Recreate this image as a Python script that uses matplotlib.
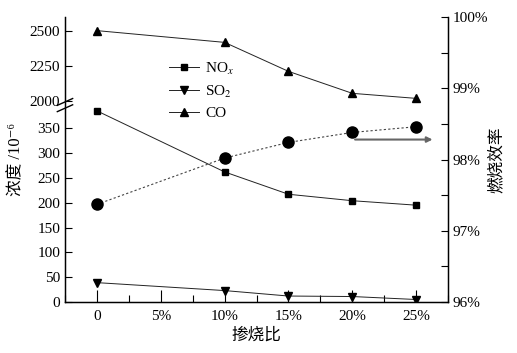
import numpy as np
import matplotlib
matplotlib.use('Agg')
import matplotlib.pyplot as plt
from matplotlib.ticker import FixedLocator, MultipleLocator, FuncFormatter

plt.rcParams['font.family'] = ['Liberation Serif', 'DejaVu Serif', 'Noto Sans CJK SC']
plt.rcParams['mathtext.fontset'] = 'stix'

# data
ratio = [0, 10, 15, 20, 25]          # 掺烧比, %
nox = [385, 262, 217, 204, 195]
so2 = [39, 23, 12, 11, 5]
co = [2500, 2416, 2209, 2052, 2016]
eff = [97.37, 98.02, 98.24, 98.38, 98.46]   # 燃烧效率, %

left_ticks = [0, 50, 100, 150, 200, 250, 300, 350, 2000, 2250, 2500]
x_ticks = [0, 5, 10, 15, 20, 25]
x_labels = ['0', '5%', '10%', '15%', '20%', '25%']

# broken axis: 0..brk shown at full scale, 2000.. squeezed by r
brk = 405.6
r = 0.282


def fwd(v):
    v = np.asarray(v, dtype=float)
    return np.where(v <= brk, v, np.where(v < 2000, brk, brk + (v - 2000) * r))


def inv(u):
    u = np.asarray(u, dtype=float)
    return np.where(u <= brk, u, 2000 + (u - brk) / r)


fig = plt.figure(figsize=(5.17, 3.53), dpi=100)
ax = fig.add_axes([0.1257, 0.1445, 0.741, 0.8073])
ax.set_yscale('function', functions=(fwd, inv))

lw = 0.7
ax.plot(ratio, nox, '-', color='#222222', lw=lw, marker='s', ms=5, mfc='black', mec='black', label='NO$_x$')
ax.plot(ratio, so2, '-', color='#222222', lw=lw, marker='v', ms=6, mfc='black', mec='black', label='SO$_2$')
ax.plot(ratio, co, '-', color='#222222', lw=lw, marker='^', ms=6, mfc='black', mec='black', label='CO')

ax.set_xlim(-2.5, 27.5)
ax.set_ylim(0, inv(574.0))
ax.yaxis.set_major_locator(FixedLocator(left_ticks))
ax.yaxis.set_minor_locator(FixedLocator([]))
ax.yaxis.set_major_formatter(FuncFormatter(lambda v, p: '%d' % round(v)))
ax.xaxis.set_major_locator(FixedLocator(x_ticks))
ax.set_xticklabels(x_labels)
ax.xaxis.set_minor_locator(MultipleLocator(2.5))
ax.tick_params(axis='x', which='major', direction='in', length=9, width=0.8, labelsize=11, pad=6)
ax.tick_params(axis='x', which='minor', direction='in', length=5, width=0.8)
ax.tick_params(axis='y', which='major', direction='in', length=5, width=0.8, labelsize=11)
ax.spines['top'].set_visible(False)
for s in ['left', 'bottom', 'right']:
    ax.spines[s].set_linewidth(1.0)

ax.set_xlabel('掺烧比', fontsize=12, labelpad=3)
ax.set_ylabel('浓度 /10⁻⁶', fontsize=12)
ax.yaxis.set_label_coords(-0.107, 0.5)

# break marks on the left spine
for dy in (-0.010, 0.012):
    ax.plot([-0.02, 0.02], [0.69 + dy - 0.012, 0.69 + dy + 0.012], transform=ax.transAxes,
            color='black', lw=1.0, clip_on=False)

ax.legend(loc='upper left', bbox_to_anchor=(0.235, 0.895), frameon=False, fontsize=11,
          handlelength=2.0, labelspacing=0.45, handletextpad=0.4)

ax2 = ax.twinx()
ax2.plot(ratio, eff, linestyle=(0, (2, 2)), color='#444444', lw=0.8, marker='o', ms=8,
         mfc='black', mec='black')
ax2.set_ylim(96, 100)
ax2.yaxis.set_major_locator(MultipleLocator(1))
ax2.yaxis.set_minor_locator(MultipleLocator(0.5))
ax2.yaxis.set_major_formatter(FuncFormatter(lambda v, p: '%d%%' % round(v)))
ax2.tick_params(axis='y', which='both', direction='in', length=5, width=0.8, labelsize=11, pad=3)
ax2.spines['top'].set_visible(False)
ax2.set_ylabel('燃烧效率', fontsize=12)
ax2.yaxis.set_label_coords(1.107, 0.5)

ax2.annotate('', xy=(26.5, 98.28), xytext=(20, 98.28),
             arrowprops=dict(arrowstyle='-|>', color='#666666', lw=1.5, mutation_scale=8))

fig.savefig('out.png', dpi=100)
